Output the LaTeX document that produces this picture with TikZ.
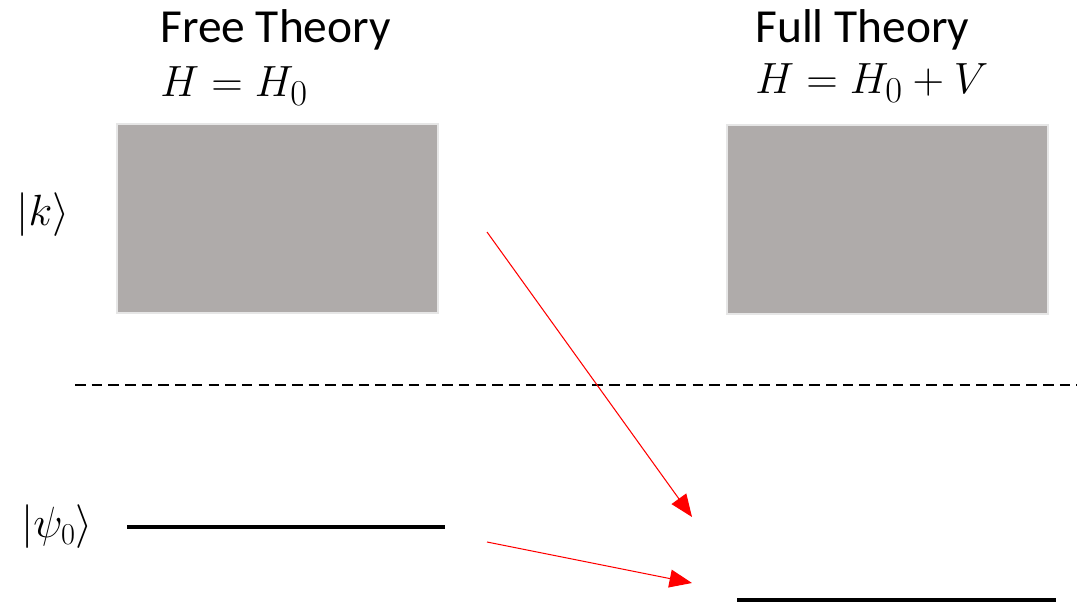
\documentclass[tikz,border=0pt]{standalone}
\usepackage{amsmath,amssymb}
\usepackage{fontspec}
\setmainfont{Carlito}
\usepackage{tikz}
\usetikzlibrary{arrows.meta,positioning}
\usepackage{xcolor}
\definecolor{bandgray}{RGB}{175,171,170}
\definecolor{edgegray}{RGB}{230,230,230}

\begin{document}
\begin{tikzpicture}[x=0.02cm,y=-0.02cm,
  band/.style={rectangle,draw=edgegray,line width=1.5pt,fill=bandgray,
    minimum width=6.42cm,minimum height=3.78cm,inner sep=0pt},
  title/.style={anchor=west,inner sep=0pt,font=\fontsize{27}{32}\selectfont},
  eqn/.style={anchor=west,inner sep=0pt,font=\fontsize{28}{33}\selectfont},
  ket/.style={inner sep=0pt,font=\fontsize{27}{32}\selectfont},
  level/.style={line width=2.2pt},
  trans/.style={red,line width=0.6pt,-{Triangle[length=4.5mm,width=3.6mm]}}
]
\useasboundingbox (0,0) rectangle (1077,604);
% titles
\node[title] (freet) at (160,30) {Free Theory};
\node[eqn] (freeh) at (160,86) {$H=H_0$};
\node[title] (fullt) at (755,30) {Full Theory};
\node[eqn] (fullh) at (755,83) {$H=H_0+V$};
% continuum bands
\node[band] (freeb) at (277.5,218.5) {};
\node[band] (fullb) at (887.5,219.5) {};
\node[ket] (k) at (43,215) {$|k\rangle$};
% separator
\draw[dashed,dash pattern=on 6pt off 3.5pt,line width=0.6pt] (75,385) -- (1077,385);
% ground states
\node[ket] (psi) at (57,527) {$|\psi_0\rangle$};
\coordinate (g0a) at (127,527);
\coordinate (g0b) at (445,527);
\coordinate (g1a) at (737,600);
\coordinate (g1b) at (1056,600);
\draw[level] (g0a) -- (g0b);
\draw[level] (g1a) -- (g1b);
% transitions
\coordinate (s1) at (487,232);
\coordinate (e1) at (692,517);
\coordinate (s2) at (487,542);
\coordinate (e2) at (692,583);
\draw[trans] (s1) -- (e1);
\draw[trans] (s2) -- (e2);
\end{tikzpicture}
\end{document}
